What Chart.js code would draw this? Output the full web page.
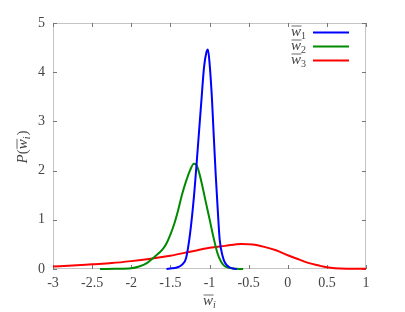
<!DOCTYPE html>
<html lang="en">
<head>
    <meta charset="UTF-8">
    <title>P(w)</title>
    <style>
        body { margin: 0; background: #fff; }
        #wrap { width: 405px; height: 312px; }
    </style>
</head>
<body>
    <div id="wrap">
        <canvas id="myChart" width="405" height="312"></canvas>
    </div>

    <script src="https://cdn.jsdelivr.net/npm/chart.js"></script>

    <script>
    // data
    const blueX = [-1.55, -1.5, -1.45, -1.4, -1.35, -1.3, -1.25, -1.2, -1.15, -1.1, -1.07, -1.04, -1.02, -1.0, -0.97, -0.95, -0.92, -0.9, -0.87, -0.83, -0.8, -0.75, -0.7, -0.65]
    const blueY = [0, 0.01, 0.02, 0.04, 0.09, 0.22, 0.7, 1.45, 2.45, 3.5, 4.1, 4.4, 4.46, 4.2, 3.5, 2.85, 1.9, 1.35, 0.6, 0.25, 0.12, 0.04, 0.01, 0]

    const greenX = [-2.4, -2.2, -2.0, -1.9, -1.8, -1.7, -1.6, -1.55, -1.5, -1.45, -1.4, -1.35, -1.3, -1.25, -1.2, -1.17, -1.14, -1.1, -1.05, -1.0, -0.95, -0.9, -0.85, -0.8, -0.7, -0.57]
    const greenY = [0, 0.005, 0.015, 0.05, 0.12, 0.25, 0.4, 0.52, 0.7, 0.92, 1.2, 1.52, 1.78, 2.0, 2.14, 2.12, 2.0, 1.75, 1.38, 1.02, 0.65, 0.33, 0.14, 0.05, 0.01, 0]

    const redX = [-3, -2.75, -2.5, -2.25, -2.0, -1.75, -1.5, -1.25, -1.0, -0.8, -0.6, -0.45, -0.3, -0.15, 0, 0.15, 0.25, 0.4, 0.5, 0.6, 0.75, 1.0]
    const redY = [0.05, 0.07, 0.095, 0.12, 0.16, 0.21, 0.27, 0.35, 0.43, 0.47, 0.51, 0.5, 0.45, 0.38, 0.28, 0.19, 0.13, 0.07, 0.035, 0.015, 0.005, 0.003]

    const seriesNames = ['1', '2', '3']
    const seriesColors = ['#0000ff', '#008a00', '#ff0000']
    const xTicks = [-3, -2.5, -2, -1.5, -1, -0.5, 0, 0.5, 1]
    const yTicks = [0, 1, 2, 3, 4, 5]

    const pts = (xs, ys) => xs.map((x, i) => ({x: x, y: ys[i]}))
    const serif = "'Liberation Serif', 'DejaVu Serif', serif"
    const textColor = '#444'

    // bar-w with a subscript; returns the width used
    function wbar(c, left, y, sub, subItalic) {
        c.save()
        c.textBaseline = 'middle'
        c.textAlign = 'left'
        c.font = 'italic 15px ' + serif
        const w1 = c.measureText('w').width
        c.fillText('w', left, y)
        c.strokeStyle = c.fillStyle
        c.lineWidth = 0.8
        c.beginPath()
        c.moveTo(left + 0.5, y - 6)
        c.lineTo(left + w1 + 0.5, y - 6)
        c.stroke()
        c.font = (subItalic ? 'italic ' : '') + '10px ' + serif
        c.fillText(sub, left + w1, y + 4)
        const w2 = c.measureText(sub).width
        c.restore()
        return w1 + w2
    }

    function wbarWidth(c, sub, subItalic) {
        c.save()
        c.font = 'italic 15px ' + serif
        const w1 = c.measureText('w').width
        c.font = (subItalic ? 'italic ' : '') + '10px ' + serif
        const w2 = c.measureText(sub).width
        c.restore()
        return w1 + w2
    }

    const frame = {
        id: 'frame',
        beforeDatasetsDraw(chart) {
            const c = chart.ctx, a = chart.chartArea
            const sx = chart.scales.x, sy = chart.scales.y
            c.save()
            c.strokeStyle = '#c4c4c4'
            c.lineWidth = 1
            c.strokeRect(a.left + 0.5, a.top + 0.5, a.right - a.left - 1, a.bottom - a.top - 1)
            c.strokeStyle = '#777'
            c.beginPath()
            xTicks.forEach(v => {
                const px = Math.round(sx.getPixelForValue(v)) + 0.5
                c.moveTo(px, a.bottom); c.lineTo(px, a.bottom - 4)
                c.moveTo(px, a.top); c.lineTo(px, a.top + 4)
            })
            yTicks.forEach(v => {
                const py = Math.round(sy.getPixelForValue(v)) + 0.5
                c.moveTo(a.left, py); c.lineTo(a.left + 4, py)
                c.moveTo(a.right, py); c.lineTo(a.right - 4, py)
            })
            c.stroke()
            c.restore()
        },
        afterDatasetsDraw(chart) {
            const c = chart.ctx, a = chart.chartArea
            c.save()
            // legend
            seriesNames.forEach((n, i) => {
                const y = 32 + i * 14
                c.fillStyle = textColor
                wbar(c, 306 - wbarWidth(c, n, false), y, n, false)
                c.strokeStyle = seriesColors[i]
                c.lineWidth = 2
                c.beginPath()
                c.moveTo(313, y + 0.5); c.lineTo(349, y + 0.5)
                c.stroke()
            })

            // x title
            c.fillStyle = textColor
            const xw = wbarWidth(c, 'i', true)
            wbar(c, (a.left + a.right) / 2 - xw / 2, 301, 'i', true)

            // y title, rotated
            c.translate(23, 147)
            c.rotate(-Math.PI / 2)
            c.textBaseline = 'middle'
            c.textAlign = 'left'
            c.font = 'italic 15px ' + serif
            const pW = c.measureText('P').width
            c.font = '15px ' + serif
            const bW = c.measureText('(').width
            const total = pW + bW + xw + 1 + bW
            let x = -total / 2
            c.font = 'italic 15px ' + serif
            c.fillText('P', x, 0)
            x += pW
            c.font = '15px ' + serif
            c.fillText('(', x, 0)
            x += bW
            x += wbar(c, x, 0, 'i', true) + 1
            c.font = '15px ' + serif
            c.fillText(')', x, 0)
            c.restore()
        }
    }

    function build() {
        const ctx = document.getElementById('myChart')
        new Chart(ctx, {
            type: 'scatter',
            data: {
                datasets: [
                    {label: 'w1', data: pts(blueX, blueY), borderColor: seriesColors[0]},
                    {label: 'w2', data: pts(greenX, greenY), borderColor: seriesColors[1]},
                    {label: 'w3', data: pts(redX, redY), borderColor: seriesColors[2]}
                ]
            },
            options: {
                responsive: false,
                animation: false,
                showLine: true,
                clip: false,
                elements: {
                    point: {radius: 0},
                    line: {borderWidth: 2, cubicInterpolationMode: 'monotone'}
                },
                layout: {padding: {top: 23, right: 39, left: 0, bottom: 0}},
                plugins: {legend: {display: false}, tooltip: {enabled: false}},
                scales: {
                    x: {
                        type: 'linear', min: -3, max: 1,
                        afterBuildTicks: s => { s.ticks = xTicks.map(v => ({value: v})) },
                        afterFit: s => { s.height = 43 },
                        grid: {display: false, drawTicks: false},
                        border: {display: false},
                        ticks: {padding: 6, color: textColor, font: {family: serif, size: 14}, maxRotation: 0, autoSkip: false,
                            callback: v => String(v)}
                    },
                    y: {
                        min: 0, max: 5,
                        afterBuildTicks: s => { s.ticks = yTicks.map(v => ({value: v})) },
                        afterFit: s => { s.width = 53 },
                        grid: {display: false, drawTicks: false},
                        border: {display: false},
                        ticks: {padding: 8, color: textColor, font: {family: serif, size: 14},
                            callback: v => String(v)}
                    }
                }
            },
            plugins: [frame]
        })
    }

    if (document.fonts && document.fonts.load) {
        Promise.all([
            document.fonts.load('13px "Liberation Serif"'),
            document.fonts.load('italic 15px "Liberation Serif"')
        ]).then(build, build)
    } else {
        build()
    }
    </script>
</body>
</html>
